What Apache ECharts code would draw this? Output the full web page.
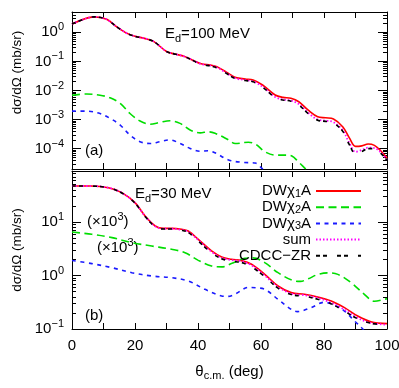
<!DOCTYPE html>
<html>
<head>
<meta charset="utf-8">
<script src="https://cdn.jsdelivr.net/npm/echarts@6/dist/echarts.min.js"></script>
<style>
  html, body { margin: 0; padding: 0; background: #fff; }
  #chart { width: 399px; height: 388px; }
</style>
</head>
<body>
<div id="chart"></div>
<script>
// ---- panel (a): Ed = 100 MeV ----
const angA = [0, 4, 7, 11, 14, 17.5, 20, 23, 26, 30, 33, 35.5, 38, 41, 44, 46, 49, 52, 55, 57.5,
  60.5, 64.5, 67, 69.5, 72, 75, 78, 80.5, 83, 86, 88, 90, 92, 94, 96, 98, 100];
const a_dw1 = [1.93, 2.9, 3.4, 2.8, 1.6, 0.92, 0.73, 0.62, 0.48, 0.22, 0.175, 0.15, 0.115, 0.083, 0.075, 0.066, 0.043, 0.028, 0.025, 0.023,
  0.0155, 0.0070, 0.0058, 0.0054, 0.0041, 0.0021, 0.00125, 0.00115, 0.00105, 0.00056, 0.00024, 0.00012, 0.000125, 0.000145, 0.00013, 0.000085, 0.000048];
const a_sum = [1.93, 2.9, 3.4, 2.8, 1.6, 0.92, 0.73, 0.62, 0.48, 0.22, 0.175, 0.15, 0.114, 0.081, 0.072, 0.062, 0.040, 0.026, 0.023, 0.0205,
  0.0135, 0.0060, 0.0049, 0.0045, 0.0034, 0.0017, 0.0010, 0.00092, 0.00082, 0.00042, 0.00016, 0.000078, 0.00009, 0.000108, 0.000105, 0.000075, 0.000042];
const a_cdcc = [1.93, 2.9, 3.4, 2.8, 1.6, 0.92, 0.73, 0.62, 0.48, 0.22, 0.175, 0.15, 0.113, 0.079, 0.070, 0.060, 0.039, 0.025, 0.022, 0.0198,
  0.0131, 0.0057, 0.0047, 0.0043, 0.0032, 0.0016, 0.00095, 0.00087, 0.00077, 0.00039, 0.00014, 0.000068, 0.00008, 0.0001, 0.0001, 0.00007, 0.00004];
const angA2 = [0, 4.7, 8.9, 12.1, 15.3, 18.4, 21.6, 24.8, 28, 31.1, 34.3, 37.5, 40.7, 43.3, 45.4, 49.7, 51.8, 56, 58.2, 61.3,
  64.5, 67.7, 69.8, 71.9, 74, 76];
const a_dw2 = [6.9e-3, 7.6e-3, 6.9e-3, 5.6e-3, 3.6e-3, 1.62e-3, 8.9e-4, 6.9e-4, 8.1e-4, 9.1e-4, 7.4e-4, 4.4e-4, 3.5e-4, 3.8e-4, 3.4e-4, 2.0e-4, 1.5e-4, 1.66e-4, 1.45e-4, 7.8e-5,
  6.0e-5, 6.0e-5, 5.6e-5, 3.5e-5, 2.1e-5, 1.3e-5];
const angA3 = [0, 4.7, 8.9, 12.1, 15.3, 18.4, 21.6, 24.8, 28, 31.1, 34.3, 37.5, 40.7, 43.3, 45.4, 49.7, 53.9, 58.2, 60.3, 62];
const a_dw3 = [1.95e-3, 1.95e-3, 1.62e-3, 1.1e-3, 6.5e-4, 2.95e-4, 1.74e-4, 1.51e-4, 1.74e-4, 2.0e-4, 1.51e-4, 1.02e-4, 8.1e-5, 8.5e-5, 7.2e-5, 4.1e-5, 3.4e-5, 3.2e-5, 2.1e-5, 1.4e-5];

// ---- panel (b): Ed = 30 MeV (DWχ2A, DWχ3A shown x10^3) ----
const angB = [0, 6, 11.6, 15.8, 20, 23.2, 26.4, 29, 31.6, 34.8, 36.9, 40.1, 44.3, 47.5, 50.6, 53.8, 57, 61.2, 65.4, 69.6,
  73.8, 78, 82.3, 86.5, 90.7, 94.9, 100];
const b_dw1 = [47.2, 47.2, 43.9, 35.4, 23.0, 13.0, 8.43, 7.62, 7.62, 7.31, 6.79, 4.75, 2.88, 2.22, 2.01, 1.9, 1.62, 1.05, 0.637, 0.479,
  0.446, 0.397, 0.334, 0.251, 0.175, 0.137, 0.126];
const b_sum = [47.2, 47.1, 43.7, 35.2, 22.8, 12.9, 8.3, 7.5, 7.5, 7.15, 6.6, 4.6, 2.78, 2.15, 1.95, 1.85, 1.55, 1.0, 0.61, 0.46,
  0.43, 0.38, 0.31, 0.23, 0.16, 0.13, 0.12];
const b_cdcc = [47.2, 47.0, 43.5, 35.0, 22.5, 12.7, 8.2, 7.4, 7.4, 7.0, 6.4, 4.4, 2.65, 2.05, 1.85, 1.75, 1.45, 0.95, 0.58, 0.44,
  0.41, 0.36, 0.295, 0.215, 0.155, 0.128, 0.12];
const angB2 = [0, 6.3, 12.7, 19, 25.3, 31.6, 35.9, 40.1, 44.3, 47.5, 50.6, 54.9, 57.5, 61.2, 65.4, 70.7, 72.5, 75, 78.1, 81.2,
  84.4, 88.6, 92.8, 96, 100];
const b_dw2 = [6.52, 5.89, 5.11, 4.11, 3.56, 3.09, 2.67, 1.92, 1.51, 1.45, 1.67, 2.10, 2.14, 1.74, 1.13, 0.79, 0.776, 0.87, 1.05, 1.12,
  1.05, 0.736, 0.446, 0.33, 0.37];
const angB3 = [0, 6.3, 12.7, 19, 25.3, 31.6, 36.9, 42.2, 47.5, 49.5, 52, 56, 58.5, 61.2, 65.4, 69.6, 71.5, 75.9, 80, 83.3,
  86.5, 89.7, 92.3, 94];
const b_dw3 = [1.91, 1.67, 1.40, 1.13, 0.98, 0.91, 0.79, 0.552, 0.415, 0.407, 0.457, 0.60, 0.59, 0.552, 0.359, 0.233, 0.211, 0.251, 0.316, 0.281,
  0.217, 0.141, 0.1, 0.071];

const names = ['DWχ1A', 'DWχ2A', 'DWχ3A', 'sum', 'CDCC−ZR'];
const xLabels = [0, 20, 40, 60, 80, 100];
const decadesA = [1e-4, 1e-3, 1e-2, 1e-1, 1];
const decadesB = [0.1, 1, 10];

const FONT = '"Liberation Sans", Arial, Helvetica, sans-serif';

function minorTicks(lo, hi) {
  const out = [];
  for (let e = -6; e <= 2; e++) {
    for (let k = 2; k <= 9; k++) {
      const v = k * Math.pow(10, e);
      if (v >= lo && v <= hi) out.push(v);
    }
  }
  return out;
}

function powLabel(v) {
  const e = Math.round(Math.log10(v));
  return '{b|10}{s|' + String(e).replace('-', '−') + '}';
}

const supRich = {
  b: { fontSize: 15, fontFamily: FONT, color: '#000' },
  s: { fontSize: 11, fontFamily: FONT, color: '#000', lineHeight: 11, padding: [0, 0, 10, 0] }
};

function yAxes(gi, lo, hi, major, nameShift) {
  const minor = minorTicks(lo, hi);
  const base = {
    type: 'log', logBase: 10, gridIndex: gi, min: lo, max: hi,
    splitLine: { show: false }, axisLabel: { show: false },
    axisLine: { show: false, onZero: false }
  };
  const line = { show: true, onZero: false, lineStyle: { color: '#000', width: 1 } };
  return [
    Object.assign({}, base, {
      position: 'left', axisLine: line,
      axisTick: { inside: true, length: 9, customValues: major, lineStyle: { color: '#000' } },
      axisLabel: { show: true, customValues: major, formatter: powLabel, rich: supRich, margin: 8 },
      name: 'dσ/dΩ (mb/sr)', nameLocation: 'middle', nameGap: 48,
      nameTextStyle: { fontSize: 13.5, fontFamily: FONT, color: '#000', padding: [0, 0, 0, nameShift] }
    }),
    Object.assign({}, base, {
      position: 'left',
      axisTick: { inside: true, length: 4, customValues: minor, lineStyle: { color: '#000' } }
    }),
    Object.assign({}, base, {
      position: 'right', axisLine: line,
      axisTick: { inside: true, length: 9, customValues: major, lineStyle: { color: '#000' } }
    }),
    Object.assign({}, base, {
      position: 'right',
      axisTick: { inside: true, length: 4, customValues: minor, lineStyle: { color: '#000' } }
    })
  ];
}

function xAxis(gi, pos, labels) {
  const ax = {
    type: 'value', gridIndex: gi, position: pos, min: 0, max: 100, interval: 10,
    splitLine: { show: false },
    axisLine: { onZero: false, lineStyle: { color: '#000', width: 1 } },
    axisTick: { inside: true, length: 6, lineStyle: { color: '#000' } },
    axisLabel: { show: false }
  };
  if (labels) {
    ax.axisLabel = { show: true, customValues: xLabels, fontSize: 15, fontFamily: FONT, color: '#000', margin: 9 };
    ax.name = '{t|θ}{sub|c.m.}{t| (deg)}';
    ax.nameLocation = 'middle';
    ax.nameGap = 35;
    ax.nameTextStyle = {
      rich: {
        t: { fontSize: 15, fontFamily: FONT, color: '#000' },
        sub: { fontSize: 11, fontFamily: FONT, color: '#000', lineHeight: 11, padding: [9, 0, 0, 0] }
      }
    };
  }
  return ax;
}

const styles = [
  { color: '#ff0000', type: 'solid', width: 1.6 },
  { color: '#00dd00', type: [8, 4.5], width: 1.6 },
  { color: '#1a1aff', type: [4, 4.5], width: 1.6 },
  { color: '#ff00ff', type: [1.5, 2], width: 1.8 },
  { color: '#000000', type: [4, 3, 4, 10], width: 1.6 }
];

function series(name, xs, ys, panel, si) {
  const st = styles[si];
  return {
    name: name, type: 'line', xAxisIndex: panel * 2, yAxisIndex: panel * 4,
    data: xs.map((x, i) => [x, ys[i]]),
    smooth: 0.35, symbol: 'none', showSymbol: false, clip: true,
    color: st.color,
    itemStyle: { opacity: 0 },
    lineStyle: { color: st.color, type: st.type, width: st.width },
    z: 2 + si
  };
}

const chart = echarts.init(document.getElementById('chart'));
chart.setOption({
  animation: false,
  textStyle: { fontFamily: FONT },
  grid: [
    { left: 72, top: 12, width: 315, height: 157, outerBoundsMode: 'none' },
    { left: 72, top: 171, width: 315, height: 158, outerBoundsMode: 'none' }
  ],
  xAxis: [xAxis(0, 'bottom', false), xAxis(0, 'top', false), xAxis(1, 'bottom', true), xAxis(1, 'top', false)],
  yAxis: yAxes(0, 2e-5, 5, decadesA, 36).concat(yAxes(1, 0.1, 90, decadesB, 0)),
  legend: {
    orient: 'vertical', right: 32, top: 178, align: 'right',
    itemWidth: 45, itemHeight: 14, itemGap: 0.2, selectedMode: false,
    itemStyle: { opacity: 0 },
    data: names,
    formatter: n => n.replace(/χ(\d)/, 'χ{sub|$1}'),
    textStyle: {
      fontSize: 15, fontFamily: FONT, color: '#000', lineHeight: 16,
      rich: { sub: { fontSize: 11, fontFamily: FONT, color: '#000', lineHeight: 8, verticalAlign: 'bottom' } }
    }
  },
  graphic: [
    { type: 'text', x: 165, y: 34, style: { text: '{m|E}{d|d}{m|=100 MeV}', align: 'left', verticalAlign: 'middle',
      rich: { m: { fontSize: 15, fontFamily: FONT, fill: '#000' }, d: { fontSize: 11, fontFamily: FONT, fill: '#000', lineHeight: 11, padding: [9, 0, 0, 0] } } } },
    { type: 'text', x: 135, y: 194, style: { text: '{m|E}{d|d}{m|=30 MeV}', align: 'left', verticalAlign: 'middle',
      rich: { m: { fontSize: 15, fontFamily: FONT, fill: '#000' }, d: { fontSize: 11, fontFamily: FONT, fill: '#000', lineHeight: 11, padding: [9, 0, 0, 0] } } } },
    { type: 'text', x: 85, y: 151, style: { text: '(a)', font: '15px ' + FONT, fill: '#000', align: 'left', verticalAlign: 'middle' } },
    { type: 'text', x: 85, y: 316, style: { text: '(b)', font: '15px ' + FONT, fill: '#000', align: 'left', verticalAlign: 'middle' } },
    { type: 'text', x: 87, y: 222, style: { text: '{m|(×10}{s|3}{m|)}', align: 'left', verticalAlign: 'middle',
      rich: { m: { fontSize: 15, fontFamily: FONT, fill: '#000' }, s: { fontSize: 11, fontFamily: FONT, fill: '#000', lineHeight: 11, padding: [0, 0, 10, 0] } } } },
    { type: 'text', x: 97, y: 248, style: { text: '{m|(×10}{s|3}{m|)}', align: 'left', verticalAlign: 'middle',
      rich: { m: { fontSize: 15, fontFamily: FONT, fill: '#000' }, s: { fontSize: 11, fontFamily: FONT, fill: '#000', lineHeight: 11, padding: [0, 0, 10, 0] } } } }
  ],
  series: [
    series(names[0], angA, a_dw1, 0, 0),
    series(names[1], angA2, a_dw2, 0, 1),
    series(names[2], angA3, a_dw3, 0, 2),
    series(names[3], angA, a_sum, 0, 3),
    series(names[4], angA, a_cdcc, 0, 4),
    series(names[0], angB, b_dw1, 1, 0),
    series(names[1], angB2, b_dw2, 1, 1),
    series(names[2], angB3, b_dw3, 1, 2),
    series(names[3], angB, b_sum, 1, 3),
    series(names[4], angB, b_cdcc, 1, 4)
  ]
});
</script>
</body>
</html>
